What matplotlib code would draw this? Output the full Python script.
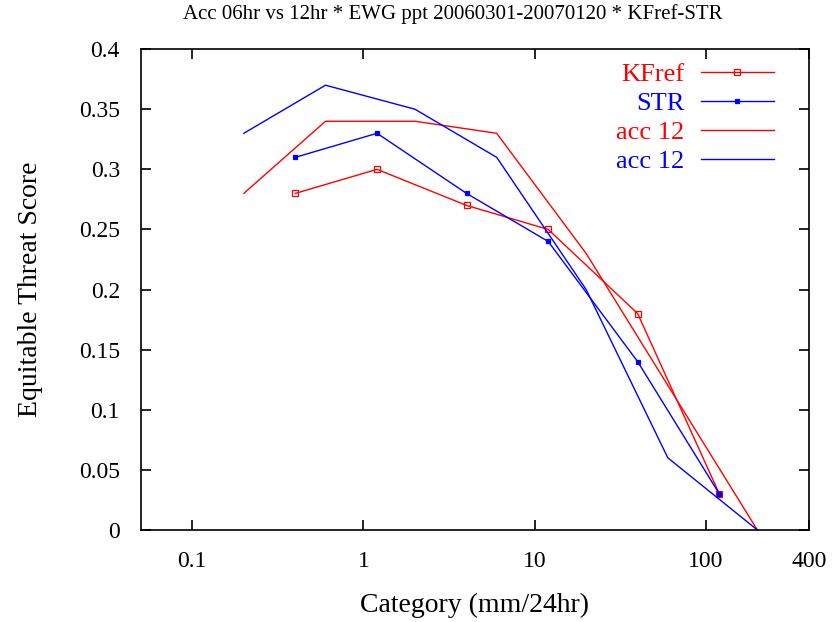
import matplotlib.pyplot as plt

plt.rcParams['font.family'] = ['Liberation Serif', 'DejaVu Serif']

# KFref / STR (with markers)
kf_x = [0.4, 1.2, 4, 12, 40, 120]
kf_y = [0.28, 0.30, 0.27, 0.25, 0.18, 0.03]
str_x = [0.4, 1.2, 4, 12, 40, 120]
str_y = [0.31, 0.33, 0.28, 0.24, 0.14, 0.03]

# acc 12 curves (no markers)
acc_red_x = [0.2, 0.6, 2, 6, 20, 200]
acc_red_y = [0.28, 0.34, 0.34, 0.33, 0.23, 0.0]
acc_blue_x = [0.2, 0.6, 2, 6, 20, 60, 200]
acc_blue_y = [0.33, 0.37, 0.35, 0.31, 0.20, 0.06, 0.0]

xticks = [0.1, 1, 10, 100, 400]
xticklabels = ['0.1', '1', '10', '100', '400']
yticks = [0, 0.05, 0.1, 0.15, 0.2, 0.25, 0.3, 0.35, 0.4]
yticklabels = ['0', '0.05', '0.1', '0.15', '0.2', '0.25', '0.3', '0.35', '0.4']

fig = plt.figure(figsize=(8.33, 6.22), dpi=100)
ax = fig.add_axes([0.169, 0.148, 0.802, 0.773])

ax.plot(kf_x, kf_y, color='red', lw=1.0, marker='s', ms=4, mfc='none', mew=0.9, label='KFref')
ax.plot(str_x, str_y, color='blue', lw=1.0, marker='s', ms=3.5, mew=0.9, label='STR')
ax.plot(acc_red_x, acc_red_y, color='red', lw=1.0, label='acc 12')
ax.plot(acc_blue_x, acc_blue_y, color='blue', lw=1.0, label='acc 12')

ax.set_xscale('log')
ax.set_xlim(0.05, 400)
ax.set_ylim(0, 0.4)
ax.set_xticks(xticks)
ax.set_xticklabels(xticklabels)
ax.minorticks_off()
ax.set_yticks(yticks)
ax.set_yticklabels(yticklabels)
ax.tick_params(direction='in', top=True, right=True, labelsize=17, length=7, width=1.2, pad=15)
for s in ax.spines.values():
    s.set_linewidth(1.2)

ax.set_xlabel('Category (mm/24hr)', fontsize=20, labelpad=15)
ax.set_ylabel('Equitable Threat Score', fontsize=20, labelpad=26)
fig.text(0.544, 0.977, 'Acc 06hr vs 12hr * EWG ppt 20060301-20070120 * KFref-STR',
         fontsize=15, ha='center', va='center')

leg = ax.legend(loc='upper right', bbox_to_anchor=(0.984, 1.022), frameon=False, markerfirst=False,
                fontsize=19, handlelength=2.8, labelspacing=0.21, handletextpad=0.6,
                borderpad=0.4, labelcolor='linecolor')
for t in leg.get_texts():
    t.set_ha('right')

fig.savefig('out.png', dpi=100)
